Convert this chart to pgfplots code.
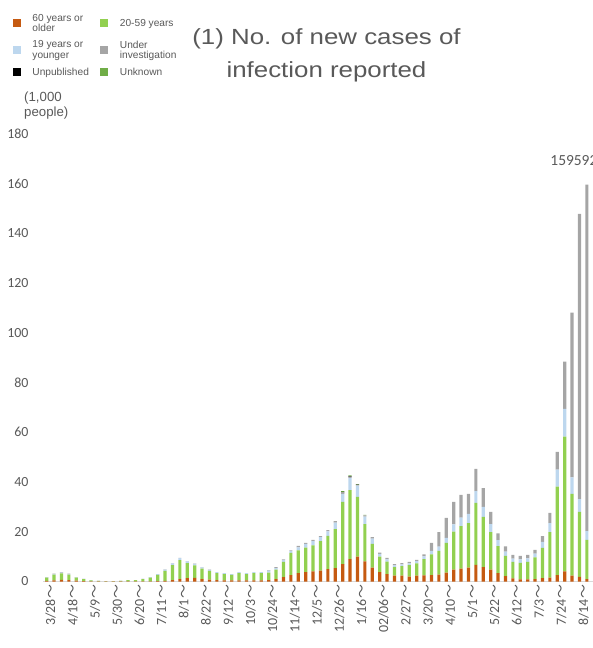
\documentclass[border=0pt]{standalone}
\usepackage{pgfplots}
\pgfplotsset{compat=1.18}
\usepackage{pgfplotstable}
\usepackage{fontspec}
\setmainfont{Liberation Sans}
\newfontfamily\calib{Carlito}
\newfontfamily\titlefont[FakeStretch=1.18]{Liberation Sans}
\newfontfamily\cjk{Noto Sans CJK JP}
\definecolor{oldc}{HTML}{C55A11}
\definecolor{midc}{HTML}{92D050}
\definecolor{youngc}{HTML}{BDD7EE}
\definecolor{invc}{HTML}{A5A5A5}
\definecolor{unkc}{HTML}{70AD47}
\definecolor{txt}{HTML}{595959}
\definecolor{axc}{HTML}{D9D9D9}
\newcommand\tl{{\cjk ～}}

% weekly new cases (1,000 people), weeks from 3/28
\pgfplotstableread{
i old mid young inv unp unk
0 0.3 1.3 0.1 0.1 0 0
1 0.5 2.3 0.2 0.15 0 0
2 0.7 2.6 0.3 0.2 0 0
3 0.6 2.2 0.2 0.15 0 0
4 0.4 1.2 0.1 0.1 0 0
5 0.2 0.75 0.1 0.05 0 0
6 0.1 0.4 0.05 0.05 0 0
7 0.05 0.2 0.03 0.02 0 0
8 0.03 0.15 0.02 0 0 0
9 0.03 0.15 0.02 0 0 0
10 0.03 0.22 0.03 0.02 0 0
11 0.05 0.48 0.05 0.02 0 0
12 0.05 0.5 0.05 0 0 0
13 0.05 0.95 0.08 0.02 0 0
14 0.1 1.5 0.15 0.05 0 0
15 0.15 2.5 0.3 0.05 0 0
16 0.3 4.0 0.5 0.1 0 0
17 0.6 6.0 0.7 0.1 0 0
18 1.0 7.6 0.8 0.1 0 0
19 1.4 6.0 0.7 0.1 0 0
20 1.5 5.0 0.6 0.1 0 0
21 1.0 4.2 0.5 0.1 0 0
22 0.8 3.5 0.4 0.1 0 0
23 0.6 2.8 0.35 0.05 0 0
24 0.5 2.5 0.35 0.05 0 0
25 0.45 2.2 0.3 0.05 0 0
26 0.5 2.9 0.35 0.05 0 0
27 0.5 2.5 0.35 0.05 0 0
28 0.5 2.9 0.35 0.05 0 0
29 0.5 2.9 0.35 0.05 0 0
30 0.6 2.95 0.8 0.25 0 0
31 1.0 3.76 0.64 0.4 0 0
32 1.8 6.05 0.8 0.25 0 0
33 2.6 8.9 0.8 0.2 0 0
34 3.4 9.1 1.25 0.55 0 0
35 3.8 9.8 1.5 0.4 0 0
36 4.1 10.45 1.65 0.5 0 0
37 4.4 11.8 1.6 0.5 0 0
38 5.0 13.4 1.8 0.5 0 0
39 5.4 15.7 2.6 0.6 0 0
40 7.0 25.0 3.2 0.6 0.2 0.4
41 9.05 27.75 4.85 0.5 0.2 0.35
42 10.0 24.0 4.6 0.3 0.1 0.2
43 8.1 15.0 3.0 0.5 0 0.2
44 5.6 9.5 2.1 0.6 0 0
45 3.8 6.2 1.1 0.5 0 0
46 3.0 5.0 0.9 0.6 0 0
47 2.35 3.45 0.7 0.5 0 0
48 2.35 3.85 0.7 0.5 0 0
49 1.95 4.65 0.7 0.55 0 0
50 2.35 4.95 0.9 0.45 0 0
51 2.5 6.55 1.05 0.8 0 0
52 2.6 8.3 1.4 3.2 0 0
53 2.8 9.5 1.7 5.9 0 0
54 3.55 11.95 2.0 8.1 0 0
55 4.75 15.35 2.9 9.0 0 0
56 5.15 17.15 3.4 9.1 0 0
57 5.6 17.9 3.7 8.0 0 0
58 6.7 24.9 4.8 8.9 0 0
59 5.8 20.2 4.0 7.6 0 0
60 4.75 15.15 3.2 4.9 0 0
61 3.4 10.8 2.4 2.8 0 0
62 2.2 8.1 1.7 2.15 0 0
63 1.3 6.55 1.35 1.5 0 0
64 0.9 6.55 1.45 1.4 0 0
65 0.9 6.95 1.45 1.4 0 0
66 1.0 8.7 1.5 1.5 0 0
67 1.4 12.1 2.4 2.4 0 0
68 1.55 18.35 3.6 4.1 0 0
69 2.6 35.6 6.8 7.1 0 0
70 4.1 54.2 11.1 19.0 0 0
71 2.35 32.85 6.7 66.3 0 0
72 1.9 26.1 5.1 114.8 0 0
73 1.0 15.7 3.6 139.3 0 0
}\cases

\begin{document}
\begin{tikzpicture}
\begin{axis}[
  at={(0,0)}, anchor=south west,
  scale only axis, width=550bp, height=447.5bp,
  ybar stacked, bar width=3.2bp,
  xmin=-0.5, xmax=73.83, ymin=0, ymax=180,
  enlargelimits=false,
  axis lines*=left,
  x axis line style={draw=axc, line width=1.6bp},
  y axis line style={draw=none},
  major tick length=0,
  ytick={0,20,...,180},
  xtick={0,3,...,72},
  xticklabels={3/28\tl,4/18\tl,5/9\tl,5/30\tl,6/20\tl,7/11\tl,8/1\tl,8/22\tl,9/12\tl,10/3\tl,10/24\tl,11/14\tl,12/5\tl,12/26\tl,1/16\tl,02/06\tl,2/27\tl,3/20\tl,4/10\tl,5/1\tl,5/22\tl,6/12\tl,7/3\tl,7/24\tl,8/14\tl},
  /pgf/number format/assume math mode=true,
  yticklabel style={font=\calib\fontsize{14}{14}\selectfont, text=txt, xshift=-11bp},
  xticklabel style={font=\calib\fontsize{14}{14}\selectfont, text=txt, rotate=90, anchor=east, yshift=-4bp},
  legend columns=2,
  legend cell align=left,
  legend style={at={(axis description cs:-0.055,1.273)}, anchor=north west, draw=none,
    inner sep=0pt, font=\fontsize{10.2}{10.2}\selectfont, text=txt,
    nodes={align=left}, column sep=9.5bp, row sep=4bp},
  legend image code/.code={\fill[#1] (0bp,-4bp) rectangle (8bp,4bp);},
]
\addplot[fill=oldc, draw=none] table[x=i, y=old] {\cases};
\addplot[fill=midc, draw=none] table[x=i, y=mid] {\cases};
\addplot[fill=youngc, draw=none] table[x=i, y=young] {\cases};
\addplot[fill=invc, draw=none] table[x=i, y=inv] {\cases};
\addplot[fill=black, draw=none] table[x=i, y=unp] {\cases};
\addplot[fill=unkc, draw=none] table[x=i, y=unk] {\cases};
\legend{60 years or\\older, 20-59 years, 19 years or\\younger, Under\\investigation, Unpublished, Unknown}
\node[anchor=west, font=\calib\fontsize{15.5}{15.5}\selectfont, text=txt] at (axis cs:67.6,169.3) {159592};
\end{axis}
\node[align=center, font=\titlefont\fontsize{22}{33}\selectfont, text=txt] at (283.5bp,526.5bp) {(1) No. of new cases of\\infection reported};
\node[align=left, anchor=west, font=\fontsize{13.3}{15.6}\selectfont, text=txt, inner sep=0pt] at (-19bp,476bp) {(1,000\\people)};
\pgfresetboundingbox
\useasboundingbox (-43bp,-66.5bp) rectangle (550bp,581.5bp);
\end{tikzpicture}
\end{document}
